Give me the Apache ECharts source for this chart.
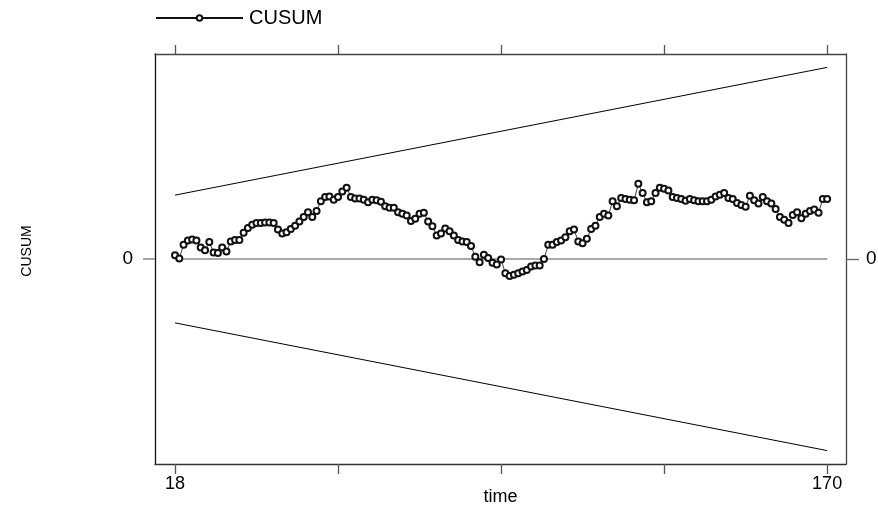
<!DOCTYPE html>
<html>
<head>
<meta charset="utf-8">
<script src="https://cdn.jsdelivr.net/npm/echarts@6/dist/echarts.min.js"></script>
<style>
  html, body { margin: 0; padding: 0; background: #fff; }
  #chart { width: 878px; height: 510px; }
</style>
</head>
<body>
<div id="chart"></div>
<script>
// time runs from 18 to 170, one CUSUM value per period
var startTime = 18;
var cusum = [
    0.7, 0.1, 2.6, 3.4, 3.6, 3.4, 2.1, 1.6, 3.1, 1.2,
    1.1, 2.1, 1.4, 3.2, 3.5, 3.5, 4.8, 5.7, 6.3, 6.6,
    6.6, 6.7, 6.7, 6.6, 5.4, 4.7, 4.9, 5.5, 6.1, 6.9,
    7.7, 8.6, 7.7, 8.8, 10.6, 11.4, 11.5, 10.9, 11.4, 12.4,
    13.1, 11.4, 11.1, 11.1, 10.9, 10.4, 10.9, 10.8, 10.5, 9.7,
    9.4, 9.4, 8.6, 8.3, 8.0, 7.0, 7.4, 8.3, 8.5, 6.9,
    6.0, 4.3, 4.7, 5.6, 5.1, 4.3, 3.5, 3.2, 3.1, 2.4,
    0.4, -0.6, 0.8, 0.2, -0.7, -1.0, -0.1, -2.6, -3.1, -2.9,
    -2.6, -2.3, -2.0, -1.4, -1.2, -1.2, 0.0, 2.6, 2.6, 3.1,
    3.4, 4.0, 5.1, 5.4, 3.2, 2.9, 3.7, 5.5, 6.1, 7.7,
    8.3, 8.0, 10.6, 9.7, 11.2, 11.0, 10.9, 10.8, 13.8, 12.1,
    10.4, 10.6, 12.1, 13.1, 12.9, 12.6, 11.4, 11.2, 11.0, 10.7,
    11.0, 10.8, 10.6, 10.6, 10.6, 10.9, 11.5, 11.8, 12.1, 11.2,
    11.0, 10.3, 9.9, 9.6, 11.6, 10.8, 10.2, 11.4, 10.6, 10.2,
    9.2, 7.7, 7.2, 6.6, 8.1, 8.6, 7.5, 8.3, 8.8, 9.1,
    8.5, 11.0, 11.0
];

// 5% significance bounds, straight lines between the end points
var boundTime = [18, 170];
var upperBound = [11.73, 35.19];
var lowerBound = [-11.73, -35.19];
var zeroLine = [0, 0];

var xTicks = [18, 56, 94, 132, 170];
var xLabels = [18, 170];
var yTicks = [0];

var font = "'Liberation Sans', Arial, sans-serif";

function pairs(xs, ys) {
    var out = [];
    for (var i = 0; i < ys.length; i++) {
        out.push([xs[i], ys[i]]);
    }
    return out;
}

var cusumData = [];
for (var i = 0; i < cusum.length; i++) {
    cusumData.push([startTime + i, cusum[i]]);
}

var chart = echarts.init(document.getElementById('chart'));
chart.setOption({
    animation: false,
    backgroundColor: '#fff',
    textStyle: { fontFamily: font },
    legend: {
        data: ['CUSUM'],
        left: 155,
        top: 8,
        padding: 0,
        itemWidth: 87,
        itemHeight: 7,
        textStyle: { fontSize: 20, color: '#000', fontFamily: font, padding: [0, 0, 0, 1] }
    },
    grid: {
        left: 155,
        right: 32,
        top: 54,
        bottom: 46,
        outerBoundsMode: 'none'
    },
    xAxis: [{
        type: 'value',
        min: 13.34,
        max: 174.4,
        position: 'bottom',
        name: 'time',
        nameLocation: 'middle',
        nameGap: 24,
        nameMoveOverlap: false,
        nameTextStyle: { fontSize: 18, color: '#000', fontFamily: font },
        axisLine: { show: true, onZero: false, lineStyle: { color: '#333', width: 1.3 } },
        axisTick: { show: true, length: 10, customValues: xTicks, lineStyle: { color: '#555', width: 1.3 } },
        axisLabel: { customValues: xLabels, margin: 11, fontSize: 18, color: '#000', fontFamily: font },
        splitLine: { show: false }
    }, {
        type: 'value',
        min: 13.34,
        max: 174.4,
        position: 'top',
        axisLine: { show: true, onZero: false, lineStyle: { color: '#444', width: 1.3 } },
        axisTick: { show: true, length: 9, customValues: xTicks, lineStyle: { color: '#555', width: 1.3 } },
        axisLabel: { show: false },
        splitLine: { show: false }
    }],
    yAxis: [{
        type: 'value',
        min: -37.65,
        max: 37.65,
        position: 'left',
        name: 'CUSUM',
        nameLocation: 'middle',
        nameRotate: 90,
        nameGap: 121,
        nameMoveOverlap: false,
        nameTextStyle: { fontSize: 14, color: '#000', fontFamily: font, padding: [0, 0, 0, 16] },
        axisLine: { show: true, onZero: false, lineStyle: { color: '#111', width: 1.3 } },
        axisTick: { show: true, length: 12, customValues: yTicks, lineStyle: { color: '#888', width: 1.5 } },
        axisLabel: { customValues: yTicks, margin: 22, fontSize: 19, color: '#000', fontFamily: font },
        splitLine: { show: false }
    }, {
        type: 'value',
        min: -37.65,
        max: 37.65,
        position: 'right',
        axisLine: { show: true, onZero: false, lineStyle: { color: '#444', width: 1.3 } },
        axisTick: { show: true, length: 13, customValues: yTicks, lineStyle: { color: '#666', width: 1.3 } },
        axisLabel: { customValues: yTicks, margin: 20, fontSize: 19, color: '#000', fontFamily: font },
        splitLine: { show: false }
    }],
    series: [{
        name: 'zero',
        type: 'line',
        data: pairs(boundTime, zeroLine),
        symbol: 'none',
        lineStyle: { color: '#8a8a8a', width: 1.5 },
        silent: true
    }, {
        name: 'upper',
        type: 'line',
        data: pairs(boundTime, upperBound),
        symbol: 'none',
        lineStyle: { color: '#000', width: 1 },
        silent: true
    }, {
        name: 'lower',
        type: 'line',
        data: pairs(boundTime, lowerBound),
        symbol: 'none',
        lineStyle: { color: '#000', width: 1 },
        silent: true
    }, {
        name: 'CUSUM',
        type: 'line',
        data: cusumData,
        symbol: 'emptyCircle',
        symbolSize: 6,
        showAllSymbol: true,
        itemStyle: { color: '#111', borderWidth: 0.8 },
        lineStyle: { color: '#111', width: 0.8 }
    }]
});
</script>
</body>
</html>
